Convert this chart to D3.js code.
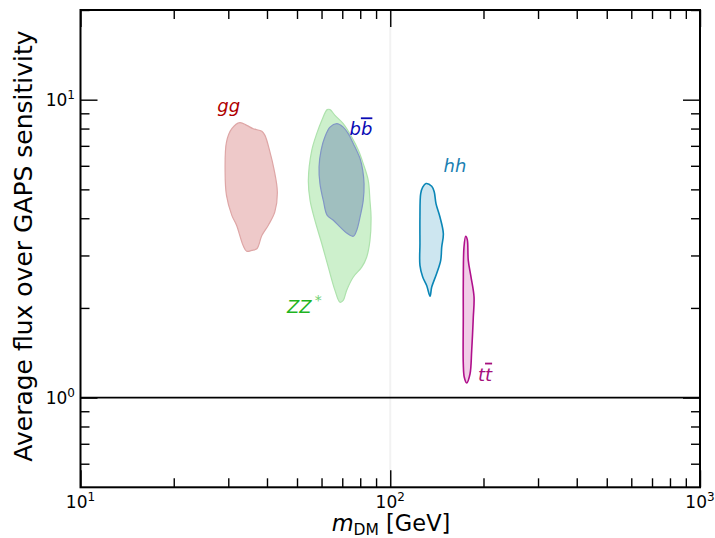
<!DOCTYPE html>
<html><head><meta charset="utf-8">
<script src="https://cdn.jsdelivr.net/npm/d3@7"></script>
<style>body{margin:0;background:#fff}svg{display:block}text{font-family:"DejaVu Sans",sans-serif}</style>
</head><body><svg id="c" width="715" height="538"></svg>
<script>
// ---- data (mass in GeV, flux ratio) ----
const xDomain = [10, 1000];
const yDomain = [0.5, 20];
const xMajor = [10, 100, 1000];
const xMajorExp = ["1", "2", "3"];
const yMajor = [1, 10];
const yMajorExp = ["0", "1"];
const xMinor = [20,30,40,50,60,70,80,90,200,300,400,500,600,700,800,900];
const yMinor = [0.6,0.7,0.8,0.9,2,3,4,5,6,7,8,9,20];

const ggRegion = [[32.7,8.37],[30.8,7.99],[29.6,7.21],[29.3,5.71],[29.6,4.77],[30.8,4.09],[31.9,3.79],[33.5,3.24],[34.4,3.10],[35.7,3.12],[37.1,3.16],[38.5,3.50],[40.4,3.79],[42.4,4.20],[43.2,4.90],[42.1,5.87],[40.9,6.67],[39.4,7.59],[38.5,7.83],[36.1,7.99],[34.4,8.20]];
const zzRegion = [[62.6,9.26],[60.1,8.52],[57.9,7.69],[55.8,6.76],[54.4,5.36],[55.1,4.59],[57.1,3.94],[60.1,3.29],[63.1,2.74],[66.3,2.29],[68.8,2.09],[70.5,2.12],[72.3,2.29],[76.0,2.54],[80.9,2.74],[83.9,2.96],[86.0,3.37],[86.7,4.04],[86.0,4.59],[84.9,5.36],[81.8,6.10],[78.9,6.76],[75.1,7.49],[70.5,8.31],[66.3,8.86],[63.9,9.26]];
const bbRegion = [[67.2,8.31],[63.9,8.09],[61.5,7.49],[59.8,6.76],[58.9,5.94],[59.3,5.23],[60.8,4.59],[62.6,4.09],[65.5,3.94],[68.8,3.74],[72.3,3.57],[76.0,3.48],[77.9,3.64],[79.9,4.04],[81.8,4.59],[82.3,5.23],[81.5,5.79],[79.9,6.34],[76.0,7.12],[73.2,7.69],[70.5,8.09]];
const hhRegion = [[130.4,5.23],[127.3,5.09],[125.4,4.84],[124.7,4.04],[124.7,3.29],[124.7,2.78],[127.3,2.54],[131.1,2.38],[134.4,2.19],[136.1,2.35],[141.2,2.61],[145.5,2.89],[146.6,3.20],[148.4,3.55],[144.7,4.04],[140.5,4.48],[138.7,4.90],[136.1,5.12]];
const ttRegion = [[175.2,3.48],[173.0,3.20],[172.1,2.41],[172.1,1.86],[172.1,1.30],[173.4,1.17],[176.5,1.12],[180.9,1.20],[183.2,1.44],[185.4,1.86],[186.4,2.18],[182.3,2.54],[178.6,2.89],[177.3,3.39]];

const channels = [
  {name:"zz", pts: zzRegion, fill:"#cdf0cc", stroke:"#aee2ad", sw:1.2},
  {name:"bb", pts: bbRegion, fill:"rgba(70,90,165,0.33)", stroke:"#8196c6", sw:1.2},
  {name:"gg", pts: ggRegion, fill:"#eec9c9", stroke:"#dea6a6", sw:1.2},
  {name:"hh", pts: hhRegion, fill:"#cde6f0", stroke:"#0a86b6", sw:1.6},
  {name:"tt", pts: ttRegion, fill:"#f1cde7", stroke:"#b0108c", sw:1.6}
];
const labelPos = {gg:[30.1,9.07], bb:[80.4,7.59], hh:[161.8,5.74], zz:[46.4,1.92], tt:[202.3,1.14]};

// ---- layout ----
const svg = d3.select("#c");
const L = 80.5, R = 700, T = 10, B = 487.3;
const x = d3.scaleLog().domain(xDomain).range([L, R]);
const y = d3.scaleLog().domain(yDomain).range([B, T]);

// faint line at 100 GeV
svg.append("line").attr("x1", x(100)).attr("x2", x(100)).attr("y1", T).attr("y2", B)
  .attr("stroke", "#f2f2f2").attr("stroke-width", 2);

const line = d3.line().x(d => x(d[0])).y(d => y(d[1])).curve(d3.curveCatmullRomClosed.alpha(0.5));
svg.append("g").selectAll("path").data(channels).join("path")
  .attr("d", d => line(d.pts)).attr("fill", d => d.fill).attr("stroke", d => d.stroke)
  .attr("stroke-width", d => d.sw).attr("stroke-linejoin", "round");

// y = 1 line
svg.append("line").attr("x1", L).attr("x2", R).attr("y1", y(1)).attr("y2", y(1))
  .attr("stroke", "#000").attr("stroke-width", 1.6);

// axes with inward ticks
function styleAxis(g){ g.select(".domain").remove(); g.selectAll("line").attr("stroke","#000").attr("stroke-width",1.4); g.selectAll("text").remove(); }
svg.append("g").attr("transform",`translate(0,${B})`).call(d3.axisBottom(x).tickValues(xMajor).tickSize(-17).tickFormat("")).call(styleAxis);
svg.append("g").attr("transform",`translate(0,${B})`).call(d3.axisBottom(x).tickValues(xMinor).tickSize(-9).tickFormat("")).call(styleAxis);
svg.append("g").attr("transform",`translate(0,${T})`).call(d3.axisTop(x).tickValues(xMajor).tickSize(-17).tickFormat("")).call(styleAxis);
svg.append("g").attr("transform",`translate(0,${T})`).call(d3.axisTop(x).tickValues(xMinor).tickSize(-9).tickFormat("")).call(styleAxis);
svg.append("g").attr("transform",`translate(${L},0)`).call(d3.axisLeft(y).tickValues(yMajor).tickSize(-17).tickFormat("")).call(styleAxis);
svg.append("g").attr("transform",`translate(${L},0)`).call(d3.axisLeft(y).tickValues(yMinor).tickSize(-9).tickFormat("")).call(styleAxis);
svg.append("g").attr("transform",`translate(${R},0)`).call(d3.axisRight(y).tickValues(yMajor).tickSize(-17).tickFormat("")).call(styleAxis);
svg.append("g").attr("transform",`translate(${R},0)`).call(d3.axisRight(y).tickValues(yMinor).tickSize(-9).tickFormat("")).call(styleAxis);

// frame
svg.append("rect").attr("x", L).attr("y", T).attr("width", R - L).attr("height", B - T)
  .attr("fill", "none").attr("stroke", "#000").attr("stroke-width", 2);

// tick labels
xMajor.forEach((v, i) => {
  const t = svg.append("text").attr("x", x(v)).attr("y", 508).attr("text-anchor", "middle").attr("font-size", 17);
  t.append("tspan").text("10");
  t.append("tspan").attr("dy", -7).attr("font-size", 12).text(xMajorExp[i]);
});
yMajor.forEach((v, i) => {
  const t = svg.append("text").attr("x", 75).attr("y", y(v) + 6).attr("text-anchor", "end").attr("font-size", 17);
  t.append("tspan").text("10");
  t.append("tspan").attr("dy", -7).attr("font-size", 12).text(yMajorExp[i]);
});

// axis titles
const xl = svg.append("text").attr("x", 391).attr("y", 531).attr("text-anchor", "middle").attr("font-size", 22.5);
xl.append("tspan").attr("font-style", "italic").text("m");
xl.append("tspan").attr("font-size", 15.5).attr("dy", 4).text("DM");
xl.append("tspan").attr("dy", -4).text(" [GeV]");
svg.append("text").attr("transform", "translate(32,246) rotate(-90)").attr("text-anchor", "middle")
  .attr("font-size", 25).text("Average flux over GAPS sensitivity");

// channel labels
function lab(key, color){ return svg.append("text").attr("x", x(labelPos[key][0])).attr("y", y(labelPos[key][1]))
  .attr("font-size", 18).attr("font-style", "italic").attr("fill", color); }
lab("gg", "#b00000").attr("text-anchor", "middle").text("gg");
const bt = lab("bb", "#0a0ab4").attr("text-anchor", "middle");
bt.append("tspan").text("b"); bt.append("tspan").style("text-decoration", "overline").text("b");
lab("hh", "#1a80b2").attr("text-anchor", "middle").text("hh");
const zt = lab("zz", "#1fb41f");
zt.append("tspan").text("ZZ"); zt.append("tspan").attr("dx", 3).attr("dy", -8).attr("font-size", 14).attr("font-style","normal").attr("fill", "#6fd06f").text("*");
const tt = lab("tt", "#a5107d").attr("text-anchor", "middle");
tt.append("tspan").text("t"); tt.append("tspan").style("text-decoration", "overline").text("t");
</script></body></html>
